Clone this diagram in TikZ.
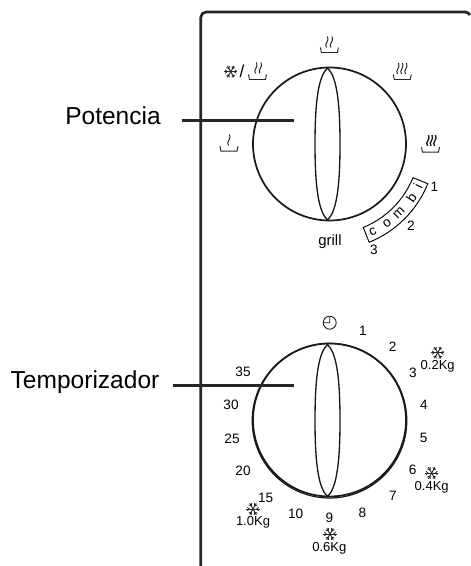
\documentclass[tikz,border=0pt]{standalone}
\usepackage{fontspec}
\setmainfont{Liberation Sans}
\usetikzlibrary{calc}
\tikzset{
    etiqueta/.style={inner sep=0pt, font=\fontsize{9.75pt}{10pt}\selectfont},
    minuto/.style={inner sep=0pt, font=\fontsize{10.2pt}{11pt}\selectfont},
    rotulo/.style={inner sep=0pt, font=\fontsize{18.4pt}{20pt}\selectfont},
    marco/.style={line width=2pt, black!85},
    dial/.style={line width=1.3pt, black!90},
    guia/.style={line width=1.9pt, black!85},
    copo/.pic={
        \foreach \a in {0,60,120} {
            \draw[line width=0.7pt, black!85] (\a:-6.6) -- (\a:6.6);
        }
        \foreach \a in {0,60,120,180,240,300} {
            \draw[line width=0.6pt, black!85] (\a:3.6) -- ++(\a+40:2.7);
            \draw[line width=0.6pt, black!85] (\a:3.6) -- ++(\a-40:2.7);
        }
    },
    lente/.pic={
        \draw[line width=1pt, black!90] (0,-76) .. controls (-8.5,-68) and (-12.5,-46) .. (-12.5,0)
            .. controls (-12.5,46) and (-8.5,68) .. (0,76)
            .. controls (8.5,68) and (12.5,46) .. (12.5,0)
            .. controls (12.5,-46) and (8.5,-68) .. (0,-76) -- cycle;
    },
    bandeja/.pic={
        \draw[line width=0.7pt, black!85] (-9,-4) -- (-8,1) -- (8,1) -- (9,-4);
    },
    ola/.pic={
        \draw[line width=0.7pt, black!90] (0,0) .. controls (-3,-4) and (3.5,-6) .. (1,-11);
    },
    olagruesa/.pic={
        \draw[line width=1pt, black!90] (0,0) .. controls (-3,-4) and (3.5,-6) .. (1,-11);
    },
}
\begin{document}
\begin{tikzpicture}[x=0.75pt, y=-0.75pt]
    \useasboundingbox (0,0) rectangle (470,566);

    % Front panel
    \draw[marco, rounded corners=4pt] (200.8,570) -- (200.8,12) -- (466,12);
    \draw[marco] (465,12) .. controls (467,12) and (469,13) .. (470,15);

    % Power dial
    \coordinate (potcen) at (329.5,144);
    \draw[dial] (potcen) circle (76.5);
    \pic at (327.5,144) {lente};

    % Power symbols
    \pic at (329.4,51.5) {bandeja};
    \pic at (326.5,47.5) {ola}; \pic at (331,47.5) {ola};
    \pic at (230.7,71.7) {copo};
    \node[etiqueta, font=\fontsize{13pt}{14pt}\selectfont] (barra) at (242,71.5) {/};
    \pic at (257.5,78.5) {bandeja};
    \pic at (255.5,73.5) {ola}; \pic at (260,73.5) {ola};
    \pic at (402.3,78.5) {bandeja};
    \pic at (397.5,74) {ola}; \pic at (401.5,74) {ola}; \pic at (405.5,74) {ola};
    \pic at (430.5,151.2) {bandeja};
    \pic at (427.5,146) {olagruesa}; \pic at (431,146) {olagruesa}; \pic at (434.5,146) {olagruesa};
    \pic at (229,150.2) {bandeja};
    \pic at (228.5,145.5) {ola};

    % Combi band
    \draw[line width=0.7pt] (potcen) ++(22:90) arc[start angle=22, end angle=68, radius=90]
        -- ($(potcen)+(68:106)$) arc[start angle=68, end angle=22, radius=106] -- cycle;
    \foreach \letra/\ang in {c/63.8, o/54, m/44.8, b/33.4, i/25.6} {
        \pgfmathsetmacro{\giro}{90-\ang}
        \node[minuto, rotate=\giro] (letra\letra) at ($(potcen)+(\ang:98)$) {\letra};
    }
    \foreach \num/\px/\py in {1/434.3/186.7, 2/411/225.7, 3/374/250} {
        \node[minuto] (combi\num) at (\px,\py) {\num};
    }
    \node[etiqueta, font=\fontsize{11.2pt}{12pt}\selectfont] (grill) at (330,241.8) {grill};

    % Timer dial
    \coordinate (tiecen) at (329.5,420);
    \draw[dial] (tiecen) circle (76.5);
    \draw[line width=0.9pt, black!90] (329.5,420.7) circle (77.3);
    \pic at (327.5,420.5) {lente};

    % Clock
    \draw[line width=0.65pt, black!90] (329.7,322.7) circle (6.5) (329.7,317) -- (329.7,322.7) -- (323.5,322.7);

    % Minutes
    \foreach \num/\px/\py in {1/363/331, 2/392.7/346.7, 3/413/372.7, 4/424/405, 5/423.7/437.7,
        6/412.7/470, 7/393/496, 8/362.3/513, 9/329.3/518, 10/295.7/514, 15/265.7/498,
        20/243/471, 25/232/439, 30/231/404.7, 35/243/371.7} {
        \node[minuto] (min\num) at (\px,\py) {\num};
    }

    % Defrost weights
    \pic at (437.7,352.7) {copo};
    \node[etiqueta] (peso02) at (437.7,366.5) {0.2Kg};
    \pic at (431.7,473) {copo};
    \node[etiqueta] (peso04) at (431.7,487) {0.4Kg};
    \pic at (330,534) {copo};
    \node[etiqueta] (peso06) at (329.3,548) {0.6Kg};
    \pic at (253,509) {copo};
    \node[etiqueta] (peso10) at (253,522.5) {1.0Kg};

    % Callouts
    \node[rotulo] (potencia) at (113,116) {Potencia};
    \coordinate (potini) at (181.7,120.6);
    \coordinate (potfin) at (293.5,120.6);
    \draw[guia] (potini) -- (potfin);
    \node[rotulo] (temporizador) at (85,382) {Temporizador};
    \coordinate (tieini) at (172.7,385.3);
    \coordinate (tiefin) at (293.5,385.3);
    \draw[guia] (tieini) -- (tiefin);
\end{tikzpicture}
\end{document}
